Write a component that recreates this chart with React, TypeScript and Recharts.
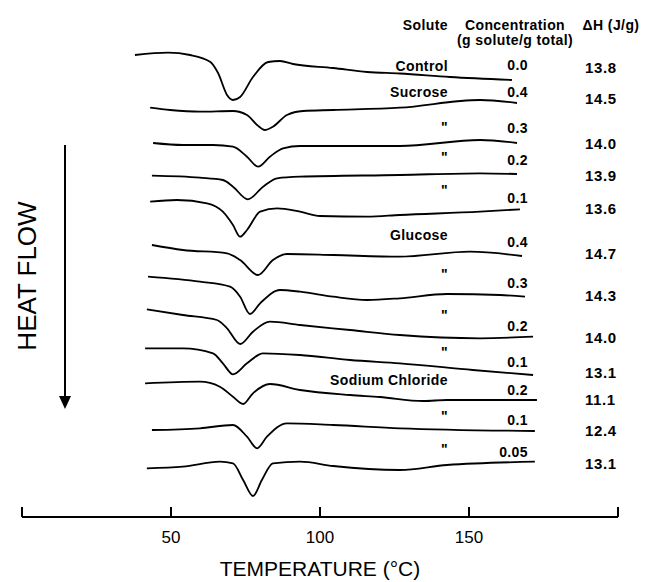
import { LineChart, Line, XAxis, YAxis } from 'recharts';

// temperature (°C) and heat flow (a.u., offset stacked)
const controlT = [37.9, 49.0, 56.4, 63.1, 65.8, 68.8, 70.8, 73.2, 77.5, 82.6, 86.6, 90.9, 104.4, 115.8, 126.8, 143.6, 164.4];
const controlHF = [46.2, 46.43, 46.2, 45.53, 44.4, 42.2, 41.7, 42.0, 44.0, 45.5, 45.6, 45.3, 44.9, 44.5, 44.35, 44.0, 43.7];

const suc04T = [43.0, 49.7, 59.7, 70.8, 75.5, 78.9, 81.5, 84.2, 88.9, 94.3, 104.4, 126.8, 153.7, 166.1];
const suc04HF = [40.93, 40.7, 40.53, 40.6, 40.2, 39.2, 38.7, 39.03, 40.2, 40.6, 40.7, 40.93, 41.7, 41.4];

const suc03T = [44.0, 54.0, 64.1, 70.8, 75.5, 79.2, 83.2, 87.6, 93.3, 126.8, 153.7, 166.1];
const suc03HF = [37.4, 37.2, 37.2, 37.03, 36.03, 35.03, 36.03, 36.87, 37.1, 37.1, 37.7, 37.4];

const suc02T = [43.6, 59.7, 67.4, 70.8, 75.8, 80.9, 85.6, 93.3, 126.8, 153.7, 166.1];
const suc02HF = [34.13, 33.93, 33.7, 33.03, 31.77, 33.03, 33.87, 34.03, 34.2, 34.37, 34.3];

const suc01T = [43.0, 52.0, 62.1, 67.4, 70.8, 73.2, 75.5, 79.9, 85.6, 93.3, 100.0, 115.8, 126.8, 153.7, 167.1];
const suc01HF = [31.53, 31.7, 31.37, 30.53, 29.2, 28.03, 28.7, 30.53, 30.87, 30.53, 30.1, 30.03, 30.2, 30.53, 30.77];

const glu04T = [43.6, 54.0, 68.8, 73.2, 79.2, 84.2, 88.9, 104.4, 126.8, 150.3, 167.8];
const glu04HF = [27.2, 26.7, 26.37, 25.7, 24.2, 25.7, 26.3, 26.2, 26.03, 26.53, 26.1];

const glu03T = [42.3, 59.7, 69.8, 73.2, 76.5, 79.9, 86.6, 93.3, 104.4, 115.8, 126.8, 142.6, 160.4, 168.8];
const glu03HF = [24.03, 23.53, 23.03, 22.03, 20.3, 21.37, 22.7, 22.53, 22.03, 21.7, 21.87, 22.3, 22.2, 22.03];

const glu02T = [41.9, 54.0, 65.4, 68.8, 73.2, 77.5, 83.2, 93.3, 110.1, 126.8, 153.7, 171.5];
const glu02HF = [20.77, 20.2, 19.7, 18.87, 17.3, 18.53, 19.53, 19.2, 18.7, 18.2, 17.87, 18.03];

const glu01T = [41.3, 54.0, 64.1, 67.4, 70.8, 75.5, 80.9, 93.3, 110.1, 126.8, 151.3, 171.5];
const glu01HF = [16.87, 16.87, 16.37, 15.37, 14.27, 15.37, 16.37, 16.2, 15.7, 15.37, 14.7, 14.2];

const nacl02T = [41.3, 59.7, 66.4, 70.8, 74.2, 77.5, 83.2, 93.3, 110.1, 120.1, 134.6, 142.6, 172.8];
const nacl02HF = [13.37, 13.53, 13.03, 12.03, 11.3, 12.37, 13.3, 12.7, 12.2, 12.0, 11.6, 11.7, 11.7];

const nacl01T = [43.6, 59.7, 70.8, 75.5, 78.9, 82.2, 88.9, 104.4, 126.8, 172.1];
const nacl01HF = [8.7, 8.87, 9.2, 8.03, 6.87, 8.03, 9.37, 9.2, 8.87, 8.6];

const nacl005T = [41.9, 54.0, 66.4, 70.8, 74.2, 77.5, 80.5, 84.2, 93.3, 104.4, 126.8, 142.6, 172.1];
const nacl005HF = [4.87, 5.03, 5.53, 5.37, 3.7, 2.1, 3.7, 5.37, 5.53, 5.1, 4.7, 5.2, 5.53];

const solutes = ['Control', 'Sucrose', '"', '"', '"', 'Glucose', '"', '"', '"', 'Sodium Chloride', '"', '"'];
const concentrations = ['0.0', '0.4', '0.3', '0.2', '0.1', '0.4', '0.3', '0.2', '0.1', '0.2', '0.1', '0.05'];
const enthalpies = ['13.8', '14.5', '14.0', '13.9', '13.6', '14.7', '14.3', '14.0', '13.1', '11.1', '12.4', '13.1'];
const tempTicks = [0, 50, 100, 150, 200];

// label rows (px) on the annotation layer
const soluteY = [66, 92, 127, 157, 190, 235, 274, 315, 352, 380, 416, 449];
const concY = [65, 92, 128, 160, 198, 242, 283, 326, 362, 390, 420, 452];
const dhY = [67, 98, 143, 175, 208, 253, 295, 337, 372, 399, 430, 463];

const curves = [
  [controlT, controlHF], [suc04T, suc04HF], [suc03T, suc03HF], [suc02T, suc02HF], [suc01T, suc01HF],
  [glu04T, glu04HF], [glu03T, glu03HF], [glu02T, glu02HF], [glu01T, glu01HF],
  [nacl02T, nacl02HF], [nacl01T, nacl01HF], [nacl005T, nacl005HF],
].map(([t, hf]) => t.map((x, i) => ({ t: x, hf: hf[i] })));

const FONT = '"Liberation Sans", Arial, Helvetica, sans-serif';

const TempTick = ({ x, y, payload }: any) => (
  <g>
    <line x1={x} y1={y} x2={x} y2={y - 10} stroke="#000" strokeWidth={2} />
    {payload.value > 0 && payload.value < 200 && (
      <text x={x} y={y + 26} textAnchor="middle" fontSize={17} fontFamily={FONT} fill="#000">
        {payload.value}
      </text>
    )}
  </g>
);

export default function App() {
  const bold = { fontFamily: FONT, fontWeight: 700, fill: '#000' } as const;
  return (
    <div style={{ position: 'absolute', left: 0, top: 0, width: 645, height: 582, background: '#fff' }}>
      <LineChart width={645} height={582} margin={{ top: 20, right: 27, left: 22, bottom: 0 }}>
        <XAxis
          type="number"
          dataKey="t"
          domain={[0, 200]}
          ticks={tempTicks}
          interval={0}
          height={65}
          tickSize={0}
          tickMargin={0}
          tick={<TempTick />}
          axisLine={{ stroke: '#000', strokeWidth: 2 }}
          tickLine={false}
          allowDuplicatedCategory={false}
          label={{ value: 'TEMPERATURE (°C)', position: 'insideBottom', offset: 6, fontSize: 21, fill: '#000', fontFamily: FONT }}
        />
        <YAxis type="number" domain={[0, 49.7]} hide width={0} allowDataOverflow />
        {curves.map((d, i) => (
          <Line
            key={i}
            data={d}
            dataKey="hf"
            type="monotone"
            stroke="#000"
            strokeWidth={1.8}
            dot={false}
            isAnimationActive={false}
          />
        ))}
      </LineChart>
      <svg width={645} height={582} style={{ position: 'absolute', left: 0, top: 0, pointerEvents: 'none' }}>
        <text x={27} y={276} transform="rotate(-90 27 276)" textAnchor="middle" dominantBaseline="central" fontSize={26} fontFamily={FONT} fill="#000">
          HEAT FLOW
        </text>
        <line x1={65} y1={145} x2={65} y2={398} stroke="#000" strokeWidth={2} />
        <polygon points="59,396 71,396 65,409" fill="#000" />
        <text x={448} y={25} textAnchor="end" dominantBaseline="central" fontSize={14} letterSpacing={0.4} {...bold}>Solute</text>
        <text x={515} y={25} textAnchor="middle" dominantBaseline="central" fontSize={14} letterSpacing={0.4} {...bold}>Concentration</text>
        <text x={515} y={40} textAnchor="middle" dominantBaseline="central" fontSize={14} letterSpacing={0.4} {...bold}>(g solute/g total)</text>
        <text x={611} y={25} textAnchor="middle" dominantBaseline="central" fontSize={14} letterSpacing={0.4} {...bold}>ΔH (J/g)</text>
        {solutes.map((s, i) => (
          <text key={'s' + i} x={448} y={soluteY[i]} textAnchor="end" dominantBaseline="central" fontSize={s === '"' ? 14 : 14} letterSpacing={0.4} {...bold}>
            {s}
          </text>
        ))}
        {concentrations.map((c, i) => (
          <text key={'c' + i} x={528} y={concY[i]} textAnchor="end" dominantBaseline="central" fontSize={14} letterSpacing={0.4} {...bold}>
            {c}
          </text>
        ))}
        {enthalpies.map((h, i) => (
          <text key={'h' + i} x={585} y={dhY[i]} textAnchor="start" dominantBaseline="central" fontSize={15} letterSpacing={0.6} {...bold}>
            {h}
          </text>
        ))}
      </svg>
    </div>
  );
}
